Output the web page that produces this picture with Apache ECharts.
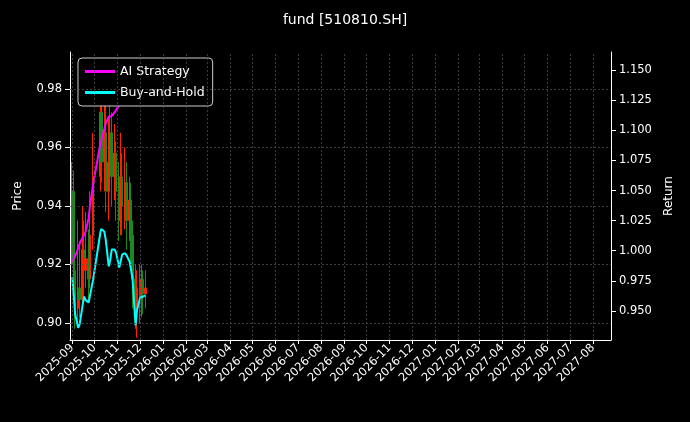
<!DOCTYPE html>
<html><head><meta charset="utf-8">
<script src="https://cdn.jsdelivr.net/npm/echarts@6/dist/echarts.min.js"></script>
<style>html,body{margin:0;background:#000}#c{width:690px;height:422px}</style>
</head><body><div id="c"></div>
<script>
const dates=['2025-09-01','2025-09-03','2025-09-05','2025-09-09','2025-09-11','2025-09-15','2025-09-17','2025-09-19','2025-09-23','2025-09-25','2025-09-29','2025-10-09','2025-10-10','2025-10-14','2025-10-16','2025-10-20','2025-10-22','2025-10-24','2025-10-28','2025-10-30','2025-11-03','2025-11-05','2025-11-07','2025-11-11','2025-11-13','2025-11-17','2025-11-19','2025-11-21','2025-11-25','2025-11-27','2025-12-01','2025-12-03','2025-12-05','2025-12-08'];
const open=[0.925,0.945,0.918,0.905,0.912,0.908,0.925,0.918,0.922,0.915,0.930,0.950,0.972,0.955,0.965,0.945,0.955,0.965,0.950,0.958,0.945,0.935,0.950,0.940,0.948,0.935,0.942,0.930,0.915,0.905,0.912,0.908,0.915,0.910];
const close=[0.945,0.920,0.905,0.912,0.908,0.925,0.918,0.922,0.915,0.930,0.950,0.972,0.955,0.965,0.945,0.955,0.965,0.950,0.958,0.945,0.935,0.950,0.940,0.948,0.935,0.942,0.930,0.915,0.905,0.912,0.908,0.915,0.910,0.912];
const low=[0.920,0.912,0.898,0.900,0.902,0.905,0.910,0.912,0.908,0.912,0.925,0.945,0.948,0.945,0.938,0.935,0.948,0.940,0.942,0.935,0.928,0.930,0.930,0.932,0.925,0.928,0.920,0.905,0.898,0.895,0.900,0.902,0.903,0.905];
const high=[0.955,0.952,0.925,0.935,0.928,0.940,0.935,0.938,0.932,0.945,0.965,0.985,0.980,0.982,0.975,0.970,0.978,0.972,0.968,0.962,0.955,0.965,0.958,0.960,0.955,0.950,0.948,0.935,0.920,0.918,0.920,0.920,0.918,0.918];
const aiStrategy=[0.991,0.990,0.996,1.002,1.006,1.011,1.013,1.016,1.027,1.038,1.055,1.090,1.092,1.101,1.106,1.111,1.111,1.112,1.115,1.116,1.121,1.124,1.125,1.128,1.130,1.132,1.134,1.135,1.140,1.142,1.145,1.147,1.148,1.149];
const buyHold=[0.978,0.963,0.947,0.936,0.939,0.955,0.962,0.959,0.957,0.958,0.976,1.016,1.018,1.016,1.009,0.987,0.992,1.001,1.001,0.998,0.986,0.991,0.997,0.998,0.996,0.991,0.984,0.976,0.938,0.951,0.961,0.962,0.962,0.963];
const priceTicks=[0.90,0.92,0.94,0.96,0.98];
const returnTicks=[0.950,0.975,1.000,1.025,1.050,1.075,1.100,1.125,1.150];
const months=[];for(let y=2025,m=9;y<2027||(y===2027&&m<=8);){months.push(`${y}-${String(m).padStart(2,'0')}`);m++;if(m>12){m=1;y++;}}
const ts=s=>Date.parse(s+'T00:00:00Z');
const monthTs=months.map(m=>ts(m+'-01'));
const font='DejaVu Sans';
const ch=echarts.init(document.getElementById('c'));
const candle=dates.map((d,i)=>[ts(d),open[i],close[i],low[i],high[i]]);
ch.setOption({
 backgroundColor:'#000',animation:false,
 textStyle:{fontFamily:font},
 title:{text:'fund [510810.SH]',left:'center',top:8,textStyle:{color:'#fff',fontSize:14,fontWeight:'normal',fontFamily:font}},
 legend:{data:['AI Strategy','Buy-and-Hold'],orient:'vertical',left:78,top:58,backgroundColor:'#000',borderColor:'#ccc',borderWidth:1,borderRadius:4,padding:[7,8,7,7],itemGap:8,itemWidth:30,itemHeight:3,textStyle:{color:'#fff',fontSize:12.5,fontFamily:font},icon:'rect'},
 grid:{left:70,right:79,top:52,bottom:82},
 xAxis:{type:'value',min:ts('2025-08-29'),max:ts('2027-08-25'),scale:true,
  axisLine:{lineStyle:{color:'#fff'}},
  axisTick:{customValues:monthTs,lineStyle:{color:'#fff'},length:4},
  axisLabel:{customValues:monthTs,rotate:45,color:'#fff',fontSize:11.5,fontFamily:font,margin:6,
   formatter:v=>{const d=new Date(v);return d.getUTCFullYear()+'-'+String(d.getUTCMonth()+1).padStart(2,'0');}},
  splitLine:{show:false}},
 yAxis:[
  {type:'value',min:0.8942,max:0.9926,name:'Price',nameLocation:'middle',nameGap:46,nameTextStyle:{color:'#fff',fontSize:12},
   axisLine:{show:true,lineStyle:{color:'#fff'}},axisTick:{show:true,customValues:priceTicks,lineStyle:{color:'#fff'}},
   axisLabel:{customValues:priceTicks,color:'#fff',fontSize:11.5,formatter:v=>v.toFixed(2)},splitLine:{show:false}},
  {type:'value',min:0.9259,max:1.165,name:'Return',nameLocation:'middle',nameGap:52,nameTextStyle:{color:'#fff',fontSize:12},
   axisLine:{show:true,lineStyle:{color:'#fff'}},axisTick:{show:true,customValues:returnTicks,lineStyle:{color:'#fff'}},
   axisLabel:{customValues:returnTicks,color:'#fff',fontSize:11.5,formatter:v=>v.toFixed(3)},splitLine:{show:false}}],
 series:[
  {type:'line',data:[[ts('2025-09-01'),0.95]],yAxisIndex:0,silent:true,showSymbol:false,lineStyle:{opacity:0},
   markLine:{symbol:'none',silent:true,label:{show:false},lineStyle:{color:'#555',type:[2,2],width:0.7},
    data:monthTs.map(t=>({xAxis:t})).concat(priceTicks.map(p=>({yAxis:p})))}},
  {type:'candlestick',yAxisIndex:0,data:candle,barWidth:2,
   itemStyle:{color:'#ff2200',color0:'#1a8a1a',borderColor:'#ff2200',borderColor0:'#1a8a1a',borderWidth:1}},
  {name:'AI Strategy',type:'line',smooth:false,yAxisIndex:1,data:dates.map((d,i)=>[ts(d),aiStrategy[i]]),showSymbol:false,lineStyle:{color:'#ff00ff',width:2},itemStyle:{color:'#ff00ff'}},
  {name:'Buy-and-Hold',type:'line',smooth:false,yAxisIndex:1,data:dates.map((d,i)=>[ts(d),buyHold[i]]),showSymbol:false,lineStyle:{color:'#00ffff',width:2},itemStyle:{color:'#00ffff'}}
 ]
});
</script></body></html>
